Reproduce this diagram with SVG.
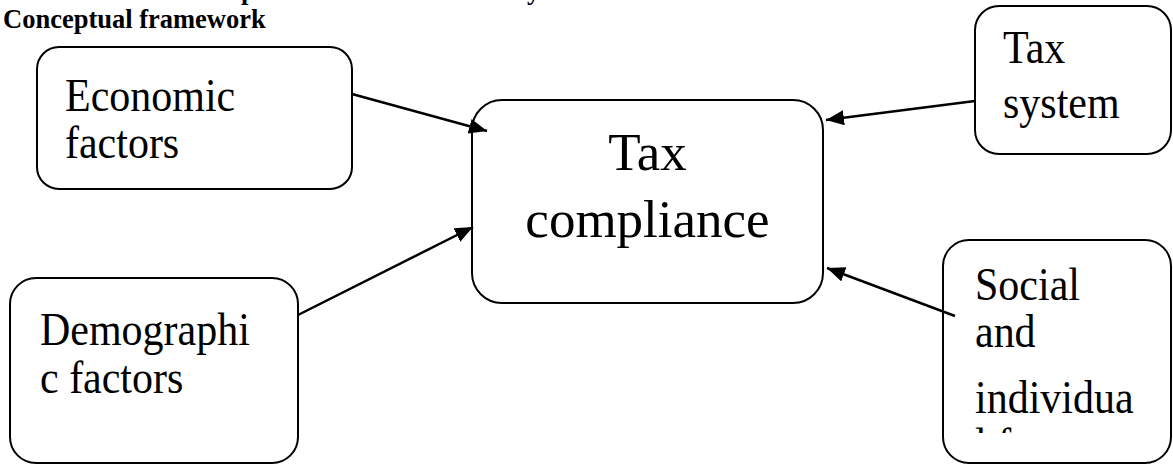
<svg xmlns="http://www.w3.org/2000/svg" width="1173" height="465" viewBox="0 0 1173 465">
  <style>
    .box { fill: #ffffff; stroke: #000000; stroke-width: 2; }
    .lbl { font-family: "Liberation Serif", "Times New Roman", serif; font-size: 42px; fill: #000000; }
    .big { font-family: "Liberation Serif", "Times New Roman", serif; font-size: 53px; fill: #000000; }
    .title { font-family: "Liberation Serif", "Times New Roman", serif; font-size: 26.5px; font-weight: bold; fill: #000000; }
    .edge { stroke: #000000; stroke-width: 2.5; fill: none; }
  </style>
  <defs>
    <marker id="arrow" markerUnits="userSpaceOnUse" markerWidth="20" markerHeight="16" refX="18" refY="7.5" orient="auto">
      <path d="M0,0 L18,7.5 L0,15 Z" fill="#000000"/>
    </marker>
    <clipPath id="socialClip">
      <rect x="943" y="240" width="230" height="193"/>
    </clipPath>
  </defs>

  <rect width="1173" height="465" fill="#ffffff"/>

  <!-- caption line above, mostly outside the page -->
  <g id="caption">
    <text x="241" y="-1" class="title" font-weight="normal">p</text>
    <text x="527" y="-1" class="title" font-weight="normal">y</text>
    <text x="3" y="28" class="title">Conceptual framework</text>
  </g>

  <!-- side labels are slightly stretched vertically (scale about each baseline) -->
  <g id="economic-factors">
    <rect class="box" x="37" y="47" width="315" height="142" rx="22" ry="22"/>
    <text class="lbl" transform="translate(65,111) scale(1,1.1)">Economic</text>
    <text class="lbl" transform="translate(65,158) scale(1,1.1)">factors</text>
  </g>

  <g id="tax-compliance">
    <rect class="box" x="472" y="100" width="351" height="203" rx="30" ry="30"/>
    <text class="big" x="647.5" y="170" text-anchor="middle">Tax</text>
    <text class="big" x="647.5" y="237" text-anchor="middle">compliance</text>
  </g>

  <g id="tax-system">
    <rect class="box" x="975" y="6" width="196" height="148" rx="24" ry="24"/>
    <text class="lbl" transform="translate(1003,63) scale(1,1.1)">Tax</text>
    <text class="lbl" transform="translate(1003,118) scale(1,1.1)">system</text>
  </g>

  <g id="demographic-factors">
    <rect class="box" x="10" y="278" width="288" height="185" rx="26" ry="26"/>
    <text class="lbl" transform="translate(40,345) scale(1,1.1)">Demographi</text>
    <text class="lbl" transform="translate(40,393) scale(1,1.1)">c factors</text>
  </g>

  <g id="social-individual-factors">
    <rect class="box" x="943" y="240" width="228" height="223" rx="26" ry="26"/>
    <g clip-path="url(#socialClip)">
      <text class="lbl" transform="translate(975,300) scale(1,1.1)">Social</text>
      <text class="lbl" transform="translate(975,347) scale(1,1.1)">and</text>
      <text class="lbl" transform="translate(975,413) scale(1,1.1)">individua</text>
      <text class="lbl" transform="translate(975,460) scale(1,1.1)">l factors</text>
    </g>
  </g>

  <!-- arrows drawn last so their heads sit over the box outlines -->
  <g id="connectors">
    <line class="edge" x1="352" y1="94" x2="487" y2="131" marker-end="url(#arrow)"/>
    <line class="edge" x1="298" y1="315" x2="473" y2="227" marker-end="url(#arrow)"/>
    <line class="edge" x1="975" y1="101" x2="826" y2="120" marker-end="url(#arrow)"/>
    <line class="edge" x1="955" y1="316" x2="827" y2="268" marker-end="url(#arrow)"/>
  </g>
</svg>
